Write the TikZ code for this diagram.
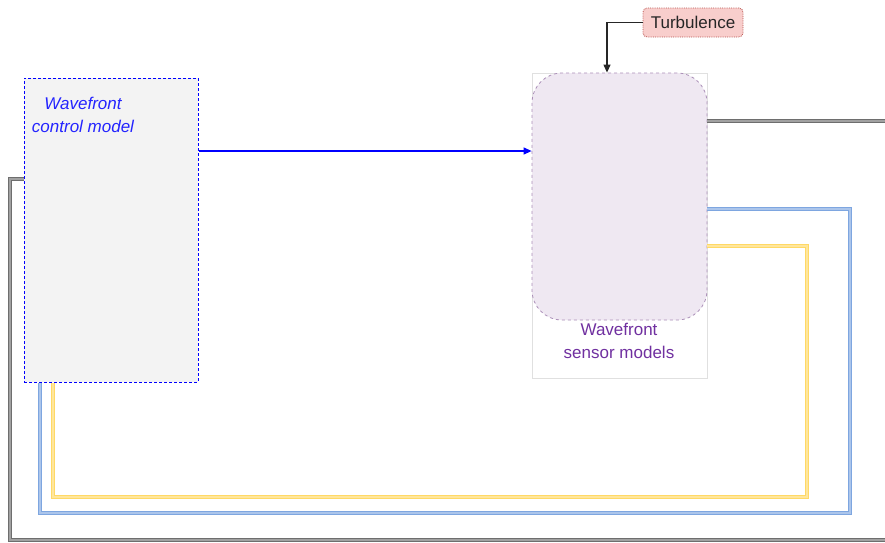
\documentclass[tikz,border=0pt]{standalone}
\usepackage{fontspec}
\setmainfont{Liberation Sans}
\usepackage{tikz}
\usetikzlibrary{positioning,arrows.meta}

\definecolor{ctrlfill}{HTML}{F3F3F3}
\definecolor{ctrlblue}{HTML}{0000FF}
\definecolor{ctrltext}{HTML}{2424FF}
\definecolor{sensfill}{HTML}{EFE8F2}
\definecolor{sensdraw}{HTML}{9673A6}
\definecolor{senstext}{HTML}{7030A0}
\definecolor{turbfill}{HTML}{F8CECC}
\definecolor{turbdraw}{HTML}{B85450}
\definecolor{loopgray}{HTML}{6E6E6E}
\definecolor{loopblue}{HTML}{7EA6E0}
\definecolor{loopyellow}{HTML}{FFD966}

\begin{document}
\begin{tikzpicture}[
x=1pt, y=-1pt,
font=\fontsize{17}{20}\selectfont,
ctrlbox/.style={draw=ctrlblue, densely dashed, line width=1pt, fill=ctrlfill, minimum width=174pt, minimum height=304pt, inner sep=0pt},
sensbox/.style={draw=black!12, line width=0.8pt, fill=white, minimum width=175pt, minimum height=305pt, inner sep=0pt},
sensbg/.style={draw=sensdraw!80, dashed, line width=0.8pt, fill=sensfill, rounded corners=30pt, minimum width=175pt, minimum height=247pt, inner sep=0pt},
turbbox/.style={draw=turbdraw, densely dotted, line width=0.8pt, fill=turbfill, rounded corners=4pt, minimum width=100pt, minimum height=29pt, inner sep=0pt, text=black!85},
arrow/.style={-{Triangle[length=8pt, width=7pt]}, line width=1.2pt},
loop/.style={double distance=1.2pt, line width=1.1pt, draw=#1, double=#1!65!white}
]
\useasboundingbox (0,0) rectangle (885,542);

\node[ctrlbox] (ctrl) at (111,230) {};
\node[align=center, text=ctrltext, font=\fontsize{17}{23}\selectfont\itshape] (ctrllabel) at (83,115) {Wavefront\\control model};

\node[sensbox] (sensor) at (619.5,225.5) {};
\node[sensbg] (sensorbg) at (619.5,196.5) {};
\node[align=center, text=senstext, font=\fontsize{17}{23}\selectfont] (senslabel) at (619,341) {Wavefront\\sensor models};

\node[turbbox] (turb) at (693,22.5) {Turbulence};

% inputs
\draw[arrow, black!85] (turb.west) -| (sensorbg.north -| 607,0);
\draw[arrow, ctrlblue] (ctrl.east |- 0,151) -- (sensorbg.west |- 0,151);

% outputs back to the controller
\coordinate (grayout) at (885,121);
\coordinate (grayin) at (885,540);
\draw[loop=loopgray] (sensorbg.east |- 0,121) -- (grayout);
\draw[loop=loopgray] (grayin) -- (10,540) |- (ctrl.west |- 0,179);
\draw[loop=loopblue] (sensorbg.east |- 0,209) -| (850,513) -| (40,513) -- (ctrl.south -| 40,0);
\draw[loop=loopyellow] (sensorbg.east |- 0,246) -| (807,497) -| (53,497) -- (ctrl.south -| 53,0);
\end{tikzpicture}
\end{document}
